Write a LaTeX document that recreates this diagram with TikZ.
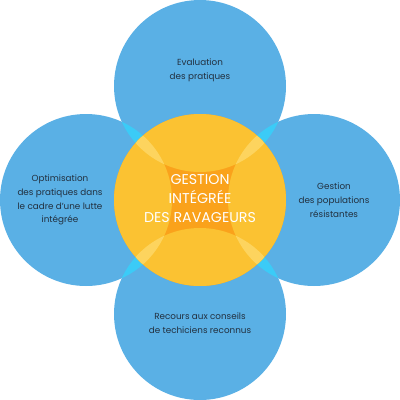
\documentclass[tikz,border=0pt]{standalone}
\usepackage{fontspec}
\setmainfont{Poppins}
\definecolor{cblue}{HTML}{5AB0E5}
\definecolor{ccyan}{HTML}{3BCBF7}
\definecolor{cyel}{HTML}{FBC232}
\definecolor{clyel}{HTML}{FDD45E}
\definecolor{corange}{HTML}{FAA21B}
\definecolor{ctext}{HTML}{22303F}
\tikzset{
  lab/.style={text=ctext, font=\fontsize{8.8}{13.8}\selectfont, align=center, inner sep=0pt},
  clab/.style={text=white, font=\fontsize{14.2}{19}\selectfont, align=center, inner sep=0pt}
}
\begin{document}
\begin{tikzpicture}[x=1pt,y=-1pt]
\useasboundingbox (0,0) rectangle (400,400);
\def\R{86}
\coordinate (T) at (200,86);
\coordinate (B) at (200,314);
\coordinate (L) at (86,200);
\coordinate (Rt) at (314,200);
\coordinate (C) at (200,200);
% blue circles
\foreach \p in {T,B,L,Rt} \fill[cblue] (\p) circle (\R);
% cyan lenses between adjacent blues
\foreach \a/\b in {T/L,T/Rt,B/L,B/Rt}{
  \begin{scope}
    \clip (\a) circle (\R);
    \fill[ccyan] (\b) circle (\R);
  \end{scope}
}
% central circle
\fill[corange] (C) circle (\R);
\begin{scope}
  \clip (C) circle (\R);
  \foreach \p in {T,B,L,Rt} \fill[cyel] (\p) circle (\R);
\end{scope}
\foreach \a/\b in {T/L,T/Rt,B/L,B/Rt}{
  \begin{scope}
    \clip (C) circle (\R);
    \clip (\a) circle (\R);
    \fill[clyel] (\b) circle (\R);
  \end{scope}
}
% labels
\node[lab] (top) at (200,70) {Evaluation\\des pratiques};
\node[lab] (left) at (60,200) {Optimisation\\des pratiques dans\\le cadre d'une lutte\\intégrée};
\node[lab] (right) at (334,200) {Gestion\\des populations\\résistantes};
\node[lab] (bottom) at (200,323) {Recours aux conseils\\de techiciens reconnus};
\node[clab] (center) at (200,199) {GESTION\\INTÉGRÉE\\DES RAVAGEURS};
\end{tikzpicture}
\end{document}
